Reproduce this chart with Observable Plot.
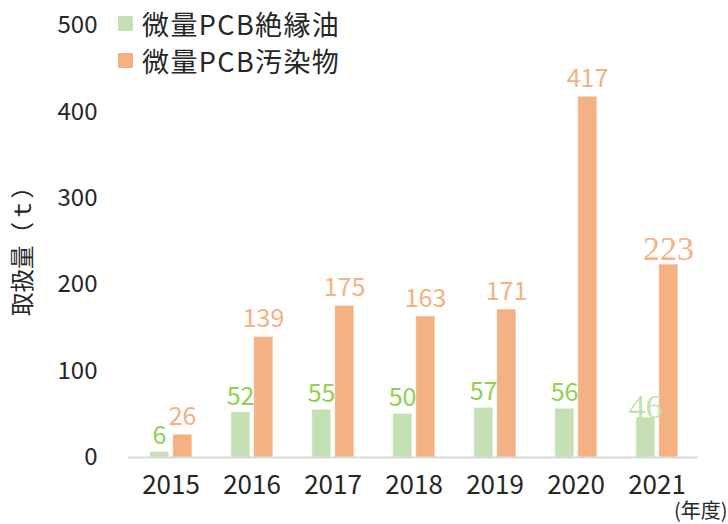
<!DOCTYPE html>
<html><head><meta charset="utf-8">
<script src="https://cdn.jsdelivr.net/npm/d3@7"></script>
<script src="https://cdn.jsdelivr.net/npm/@observablehq/plot@0.6"></script>
<style>
body{margin:0;background:#fff;font-family:"Noto Sans CJK JP",sans-serif;}
#wrap{position:relative;width:728px;height:524px;overflow:hidden;}
.legend{position:absolute;left:118px;font-size:27px;color:#262626;display:flex;align-items:center;line-height:1;letter-spacing:1.4px;}
.legend span.sw{display:inline-block;width:15px;height:15px;margin-right:9px;}
</style></head>
<body><div id="wrap"></div>
<script>
const years = ["2015","2016","2017","2018","2019","2020","2021"];
const oilValues = [6, 52, 55, 50, 57, 56, 46];
const wasteValues = [26, 139, 175, 163, 171, 417, 223];
const seriesNames = ["微量PCB絶縁油", "微量PCB汚染物"];
const yTicks = [0, 100, 200, 300, 400, 500];
const yLabel = "取扱量（ｔ）";
const xUnit = "(年度)";

const greenBar = "#c5e0b4", greenText = "#92d050", greenLight = "#c2e2ae";
const orangeBar = "#f4b183", orangeText = "#f4b183";

const oil = years.map((y, i) => ({year: y, value: oilValues[i], last: i === years.length - 1}));
const waste = years.map((y, i) => ({year: y, value: wasteValues[i], last: i === years.length - 1}));

const font = "Noto Sans CJK JP";
const chart = Plot.plot({
  width: 728, height: 524,
  marginLeft: 128, marginRight: 30, marginTop: 25, marginBottom: 67,
  style: {fontFamily: font, background: "#fff"},
  x: {domain: years, padding: 0, label: null},
  y: {domain: [0, 500], label: null},
  marks: [
    Plot.axisY({ticks: yTicks, tickSize: 0, tickPadding: 31, fontSize: 24, color: "#262626", label: null}),
    Plot.axisX({tickSize: 0, tickPadding: 18, fontSize: 26, color: "#262626", label: null}),
    Plot.barY(oil, {x: "year", y: "value", fill: greenBar, insetLeft: 20, insetRight: 42.4, stroke: "#dcefd0", strokeWidth: 0.5}),
    Plot.barY(waste, {x: "year", y: "value", fill: orangeBar, insetLeft: 43, insetRight: 19.4, stroke: "#f8cdb0", strokeWidth: 0.5}),
    Plot.ruleY([0], {stroke: "#d9d9d9", strokeWidth: 2}),
    Plot.text(oil.filter(d => !d.last), {x: "year", y: "value", text: d => String(d.value), dx: -11.5, dy: -8, lineAnchor: "bottom", fill: greenText, fontSize: 25}),
    Plot.text(waste.filter(d => !d.last), {x: "year", y: "value", text: d => String(d.value), dx: 11.5, dy: -10, lineAnchor: "bottom", fill: orangeText, fontSize: 25}),
    Plot.text(oil.filter(d => d.last), {x: "year", y: "value", text: d => String(d.value), dx: -11.5, dy: 0, lineAnchor: "bottom", fill: greenLight, fontSize: 34, fontFamily: "Liberation Serif"}),
    Plot.text(waste.filter(d => d.last), {x: "year", y: "value", text: d => String(d.value), dx: 11.5, dy: -5, lineAnchor: "bottom", fill: orangeText, fontSize: 34, fontFamily: "Liberation Serif"}),
    Plot.text([yLabel], {frameAnchor: "left", textAnchor: "middle", dx: -105, dy: 4, rotate: -90, fontSize: 23.5, fill: "#262626"}),
    Plot.text([xUnit], {frameAnchor: "bottom-right", dx: 29, dy: 46, textAnchor: "end", lineAnchor: "top", fontSize: 20, fill: "#262626"})
  ]
});
const wrap = document.getElementById("wrap");
wrap.appendChild(chart);
const legendColors = [greenBar, orangeBar];
seriesNames.forEach((name, i) => {
  const d = document.createElement("div");
  d.className = "legend";
  d.style.top = (10 + i * 37) + "px";
  d.innerHTML = `<span class="sw" style="background:${legendColors[i]}"></span>${name}`;
  wrap.appendChild(d);
});
</script></body></html>
